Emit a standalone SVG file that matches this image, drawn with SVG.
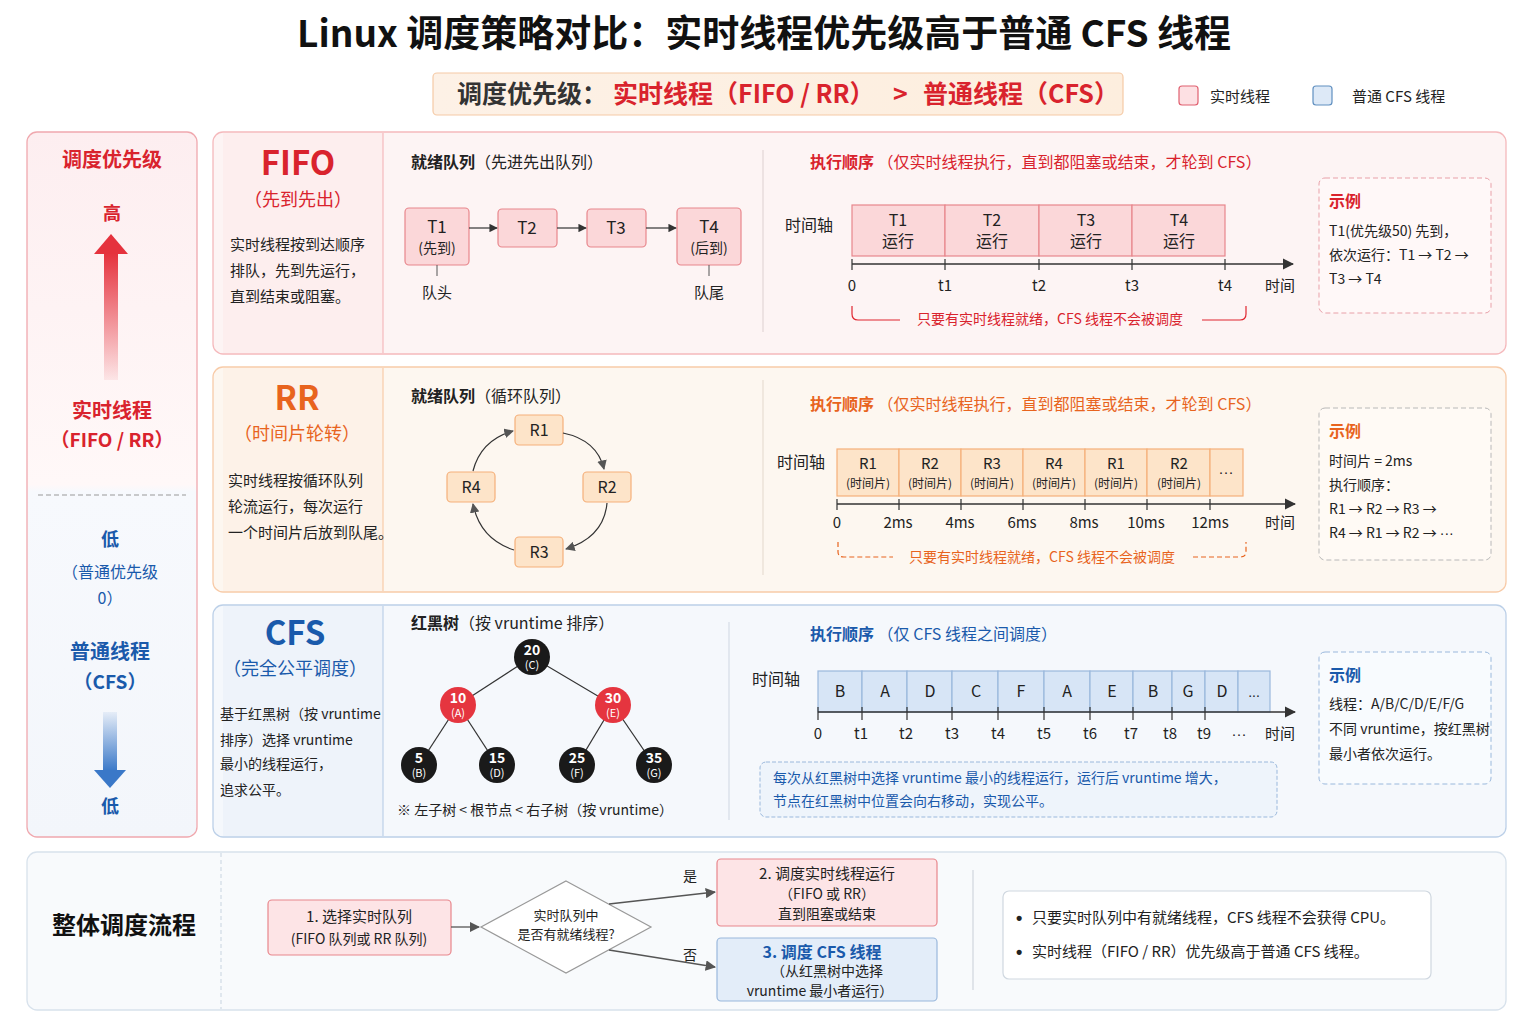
<svg xmlns="http://www.w3.org/2000/svg" width="1536" height="1024" viewBox="0 0 1536 1024" fill="#222">
<defs>
<style>
text{font-family:"Noto Sans CJK SC","Liberation Sans",sans-serif}
.lat{font-family:"Liberation Sans",sans-serif}
.b{font-weight:bold}
.red{fill:#d9232d}
.org{fill:#e8641e}
.blu{fill:#1a5aab}
.c{text-anchor:middle}
.s14{font-size:14px}.s15{font-size:15px}.s16{font-size:16px}.s13{font-size:13px}
.rc{fill:#fbd7d9;stroke:#e8868c;stroke-width:1.2}
.oc{fill:#fde4c9;stroke:#f5b07a;stroke-width:1.2}
.bc{fill:#d7e5f6;stroke:#9ab8dc;stroke-width:1.2}
.ax{stroke:#333;stroke-width:1.6;fill:none}
.tk{stroke:#333;stroke-width:1.2}
.ln{stroke:#333;stroke-width:1.2;fill:none}
</style>
<marker id="ah" viewBox="0 0 10 10" refX="9" refY="5" markerWidth="7" markerHeight="7" orient="auto"><path d="M0,0L10,5L0,10z" fill="#333"/></marker>
<marker id="ahg" viewBox="0 0 10 10" refX="9" refY="5" markerWidth="8" markerHeight="8" orient="auto"><path d="M0,0L10,5L0,10z" fill="#555"/></marker>
<linearGradient id="gRed" x1="0" y1="0" x2="0" y2="1"><stop offset="0" stop-color="#e5323d"/><stop offset="1" stop-color="#e5323d" stop-opacity="0.08"/></linearGradient>
<linearGradient id="gBlue" x1="0" y1="0" x2="0" y2="1"><stop offset="0" stop-color="#3a78c8" stop-opacity="0.08"/><stop offset="1" stop-color="#3a78c8"/></linearGradient>
<linearGradient id="gLeft" x1="0" y1="0" x2="0" y2="1"><stop offset="0" stop-color="#fdeef0"/><stop offset="0.5" stop-color="#fff8f8"/><stop offset="0.51" stop-color="#f7f9fd"/><stop offset="1" stop-color="#f3f6fb"/></linearGradient>
<linearGradient id="gBan" x1="0" y1="0" x2="1" y2="0"><stop offset="0" stop-color="#fdf1e6"/><stop offset="1" stop-color="#fdeede"/></linearGradient>
</defs>
<rect width="1536" height="1024" fill="#fff"/>

<g id="title">
<text x="764" y="47" class="b c" font-size="37" fill="#111">Linux 调度策略对比：实时线程优先级高于普通 CFS 线程</text>
</g>
<g id="banner">
<rect x="433" y="73" width="690" height="42" rx="4" fill="url(#gBan)" stroke="#f5caa6" stroke-width="1.2"/>
<text y="103" font-size="25" class="b"><tspan x="457" fill="#333">调度优先级：</tspan><tspan x="613" fill="#d9232d">实时线程（FIFO / RR）</tspan><tspan x="893" fill="#d9232d">&gt;</tspan><tspan x="923" fill="#d9232d">普通线程（CFS）</tspan></text>
</g>
<g id="legend">
<rect x="1179" y="86" width="19" height="19" rx="3" fill="#fde0e3" stroke="#e06070" stroke-width="1.2"/>
<text x="1210" y="102" class="s15">实时线程</text>
<rect x="1313" y="86" width="19" height="19" rx="3" fill="#dde9f7" stroke="#6090c0" stroke-width="1.2"/>
<text x="1352" y="102" class="s15">普通 CFS 线程</text>
</g>

<g id="priority-column">
<rect x="27" y="132" width="170" height="705" rx="10" fill="url(#gLeft)" stroke="#f0a8ae" stroke-width="1.3"/>
<text x="112" y="167" class="b red c" font-size="20">调度优先级</text>
<text x="112" y="220" class="b red c" font-size="18">高</text>
<polygon points="111,234 128,254 94,254" fill="#e5323d"/>
<rect x="104" y="253" width="14" height="127" fill="url(#gRed)"/>
<text x="112" y="418" class="b red c" font-size="20">实时线程</text>
<text x="112" y="447" class="b red c" font-size="19">（FIFO / RR）</text>
<line x1="38" y1="495" x2="186" y2="495" stroke="#999" stroke-dasharray="5 3"/>
<text x="110" y="546" class="b blu c" font-size="18">低</text>
<text x="110" y="578" class="blu c s16">（普通优先级</text>
<text x="110" y="604" class="blu c s16">0）</text>
<text x="110" y="659" class="b blu c" font-size="20">普通线程</text>
<text x="110" y="689" class="b blu c" font-size="19">（CFS）</text>
<rect x="103" y="712" width="14" height="59" fill="url(#gBlue)"/>
<polygon points="94,770 126,770 110,788" fill="#3a78c8"/>
<text x="110" y="813" class="b blu c" font-size="18">低</text>
</g>

<g id="fifo-panel">
<rect x="213" y="132" width="1293" height="222" rx="10" fill="#fdf4f4" stroke="#f5b9bc" stroke-width="1.3"/>
<path d="M223,133H383V353H223" fill="#fdeeee" stroke="none"/>
<line x1="383" y1="133" x2="383" y2="353" stroke="#f5b9bc" stroke-width="1.2"/>
<line x1="763" y1="150" x2="763" y2="332" stroke="#e3d6d6" stroke-width="1.2"/>
<text x="298" y="175" class="b red c" font-size="33">FIFO</text>
<text x="298" y="206" class="red c" font-size="18">（先到先出）</text>
<text x="230" y="250" class="s15">实时线程按到达顺序</text>
<text x="230" y="276" class="s15">排队，先到先运行，</text>
<text x="230" y="302" class="s15">直到结束或阻塞。</text>
<text x="411" y="168" class="s16"><tspan class="b">就绪队列</tspan>（先进先出队列）</text>
</g>
<g id="fifo-T1"><rect x="405" y="208" width="64" height="57" rx="4" class="rc"/><text x="437" y="233" class="c" font-size="17">T1</text><text x="437" y="253" class="c s14">(先到)</text></g>
<g id="fifo-T2"><rect x="498" y="209" width="59" height="38" rx="4" class="rc"/><text x="527" y="234" class="c" font-size="17">T2</text></g>
<g id="fifo-T3"><rect x="587" y="209" width="59" height="38" rx="4" class="rc"/><text x="616" y="234" class="c" font-size="17">T3</text></g>
<g id="fifo-T4"><rect x="677" y="208" width="64" height="57" rx="4" class="rc"/><text x="709" y="233" class="c" font-size="17">T4</text><text x="709" y="253" class="c s14">(后到)</text></g>
<g id="fifo-labels">
<text x="437" y="298" class="c s15">队头</text>
<text x="709" y="298" class="c s15">队尾</text>
</g>
<g id="fifo-timeline">
<text x="810" y="168" class="red s16"><tspan class="b">执行顺序</tspan> （仅实时线程执行，直到都阻塞或结束，才轮到 CFS）</text>
<text x="785" y="231" class="s16">时间轴</text>
<rect x="852" y="205" width="93" height="51" class="rc"/>
<rect x="945" y="205" width="94" height="51" class="rc"/>
<rect x="1039" y="205" width="93" height="51" class="rc"/>
<rect x="1132" y="205" width="93" height="51" class="rc"/>
<text x="898" y="226" class="c s16">T1</text><text x="898" y="247" class="c s16">运行</text>
<text x="992" y="226" class="c s16">T2</text><text x="992" y="247" class="c s16">运行</text>
<text x="1086" y="226" class="c s16">T3</text><text x="1086" y="247" class="c s16">运行</text>
<text x="1179" y="226" class="c s16">T4</text><text x="1179" y="247" class="c s16">运行</text>
<text x="852" y="291" class="c s15">0</text><text x="945" y="291" class="c s15">t1</text><text x="1039" y="291" class="c s15">t2</text><text x="1132" y="291" class="c s15">t3</text><text x="1225" y="291" class="c s15">t4</text><text x="1280" y="291" class="c s15">时间</text>
<text x="1050" y="324" class="red c s14">只要有实时线程就绪，CFS 线程不会被调度</text>
</g>
<g id="fifo-example">
<rect x="1319" y="178" width="172" height="135" rx="6" fill="#fff8f8" stroke="#e8a0a8" stroke-dasharray="5 3"/>
<text x="1329" y="207" class="b red s16">示例</text>
<text x="1329" y="236" class="s14">T1(优先级50) 先到，</text>
<text x="1329" y="260" class="s14">依次运行：T1 → T2 →</text>
<text x="1329" y="284" class="s14">T3 → T4</text>
</g>

<g id="rr-panel">
<rect x="213" y="367" width="1293" height="225" rx="10" fill="#fdf7f0" stroke="#f8cba8" stroke-width="1.3"/>
<path d="M223,368H383V591H223" fill="#fdf2e8" stroke="none"/>
<line x1="383" y1="368" x2="383" y2="591" stroke="#f8cba8" stroke-width="1.2"/>
<line x1="763" y1="380" x2="763" y2="575" stroke="#e8ddd2" stroke-width="1.2"/>
<text x="297" y="410" class="b org c" font-size="33">RR</text>
<text x="297" y="440" class="org c" font-size="18">（时间片轮转）</text>
<text x="228" y="486" class="s15">实时线程按循环队列</text>
<text x="228" y="512" class="s15">轮流运行，每次运行</text>
<text x="228" y="538" class="s15">一个时间片后放到队尾。</text>
<text x="411" y="402" class="s16"><tspan class="b">就绪队列</tspan>（循环队列）</text>
</g>
<g id="rr-R1"><rect x="515" y="415" width="48" height="30" rx="4" class="oc"/><text x="539" y="436" class="c s16">R1</text></g>
<g id="rr-R2"><rect x="583" y="472" width="48" height="30" rx="4" class="oc"/><text x="607" y="493" class="c s16">R2</text></g>
<g id="rr-R3"><rect x="515" y="537" width="48" height="30" rx="4" class="oc"/><text x="539" y="558" class="c s16">R3</text></g>
<g id="rr-R4"><rect x="447" y="472" width="48" height="30" rx="4" class="oc"/><text x="471" y="493" class="c s16">R4</text></g>
<g id="rr-timeline">
<text x="810" y="410" class="org s16"><tspan class="b">执行顺序</tspan> （仅实时线程执行，直到都阻塞或结束，才轮到 CFS）</text>
<text x="777" y="468" class="s16">时间轴</text>
<rect x="837" y="449" width="62" height="47" class="oc"/>
<rect x="899" y="449" width="62" height="47" class="oc"/>
<rect x="961" y="449" width="62" height="47" class="oc"/>
<rect x="1023" y="449" width="62" height="47" class="oc"/>
<rect x="1085" y="449" width="62" height="47" class="oc"/>
<rect x="1147" y="449" width="63" height="47" class="oc"/>
<rect x="1210" y="449" width="33" height="47" class="oc"/>
<text x="868" y="469" class="c s15">R1</text><text x="868" y="488" class="c" font-size="12">(时间片)</text>
<text x="930" y="469" class="c s15">R2</text><text x="930" y="488" class="c" font-size="12">(时间片)</text>
<text x="992" y="469" class="c s15">R3</text><text x="992" y="488" class="c" font-size="12">(时间片)</text>
<text x="1054" y="469" class="c s15">R4</text><text x="1054" y="488" class="c" font-size="12">(时间片)</text>
<text x="1116" y="469" class="c s15">R1</text><text x="1116" y="488" class="c" font-size="12">(时间片)</text>
<text x="1179" y="469" class="c s15">R2</text><text x="1179" y="488" class="c" font-size="12">(时间片)</text>
<text x="1226" y="477" class="c s15 lat">···</text>
<text x="837" y="528" class="c s15">0</text><text x="898" y="528" class="c s15">2ms</text><text x="960" y="528" class="c s15">4ms</text><text x="1022" y="528" class="c s15">6ms</text><text x="1084" y="528" class="c s15">8ms</text><text x="1146" y="528" class="c s15">10ms</text><text x="1210" y="528" class="c s15">12ms</text><text x="1280" y="528" class="c s15">时间</text>
<text x="1042" y="562" class="org c s14">只要有实时线程就绪，CFS 线程不会被调度</text>
</g>
<g id="rr-example">
<rect x="1319" y="408" width="172" height="152" rx="6" fill="#fffaf5" stroke="#b8b8b8" stroke-dasharray="5 3"/>
<text x="1329" y="437" class="b org s16">示例</text>
<text x="1329" y="466" class="s14">时间片 = 2ms</text>
<text x="1329" y="490" class="s14">执行顺序：</text>
<text x="1329" y="514" class="s14">R1 → R2 → R3 →</text>
<text x="1329" y="538" class="s14">R4 → R1 → R2 → <tspan class="lat">···</tspan></text>
</g>

<g id="cfs-panel">
<rect x="213" y="605" width="1293" height="232" rx="10" fill="#f5f8fc" stroke="#bcd0e8" stroke-width="1.3"/>
<path d="M223,606H383V836H223" fill="#eef3fa" stroke="none"/>
<line x1="383" y1="606" x2="383" y2="836" stroke="#bcd0e8" stroke-width="1.2"/>
<line x1="729" y1="622" x2="729" y2="820" stroke="#d6dde6" stroke-width="1.2"/>
<text x="295" y="645" class="b blu c" font-size="33">CFS</text>
<text x="295" y="675" class="blu c" font-size="18">（完全公平调度）</text>
<text x="220" y="719" class="s14">基于红黑树（按 vruntime</text>
<text x="220" y="745" class="s14">排序）选择 vruntime</text>
<text x="220" y="769" class="s14">最小的线程运行，</text>
<text x="220" y="795" class="s14">追求公平。</text>
<text x="411" y="629" class="s16"><tspan class="b">红黑树</tspan>（按 vruntime 排序）</text>
<text x="397" y="815" class="s14">※ 左子树 &lt; 根节点 &lt; 右子树（按 vruntime）</text>
</g>
<g id="tree-edges">
<line x1="532" y1="657" x2="458" y2="705" class="ln"/>
<line x1="532" y1="657" x2="613" y2="705" class="ln"/>
<line x1="458" y1="705" x2="419" y2="765" class="ln"/>
<line x1="458" y1="705" x2="497" y2="765" class="ln"/>
<line x1="613" y1="705" x2="577" y2="765" class="ln"/>
<line x1="613" y1="705" x2="654" y2="765" class="ln"/>
</g>
<g id="node-20"><circle cx="532" cy="657" r="18" fill="#1a1a1a"/><text x="532" y="655" class="c b" font-size="14" fill="#fff">20</text><text x="532" y="669" class="c" font-size="11" fill="#fff">(C)</text></g>
<g id="node-10"><circle cx="458" cy="705" r="18" fill="#e5353f"/><text x="458" y="703" class="c b" font-size="14" fill="#fff">10</text><text x="458" y="717" class="c" font-size="11" fill="#fff">(A)</text></g>
<g id="node-30"><circle cx="613" cy="705" r="18" fill="#e5353f"/><text x="613" y="703" class="c b" font-size="14" fill="#fff">30</text><text x="613" y="717" class="c" font-size="11" fill="#fff">(E)</text></g>
<g id="node-5"><circle cx="419" cy="765" r="18" fill="#1a1a1a"/><text x="419" y="763" class="c b" font-size="14" fill="#fff">5</text><text x="419" y="777" class="c" font-size="11" fill="#fff">(B)</text></g>
<g id="node-15"><circle cx="497" cy="765" r="18" fill="#1a1a1a"/><text x="497" y="763" class="c b" font-size="14" fill="#fff">15</text><text x="497" y="777" class="c" font-size="11" fill="#fff">(D)</text></g>
<g id="node-25"><circle cx="577" cy="765" r="18" fill="#1a1a1a"/><text x="577" y="763" class="c b" font-size="14" fill="#fff">25</text><text x="577" y="777" class="c" font-size="11" fill="#fff">(F)</text></g>
<g id="node-35"><circle cx="654" cy="765" r="18" fill="#1a1a1a"/><text x="654" y="763" class="c b" font-size="14" fill="#fff">35</text><text x="654" y="777" class="c" font-size="11" fill="#fff">(G)</text></g>
<g id="cfs-timeline">
<text x="810" y="640" class="blu s16"><tspan class="b">执行顺序</tspan> （仅 CFS 线程之间调度）</text>
<text x="752" y="685" class="s16">时间轴</text>
<rect x="818" y="671" width="44" height="41" class="bc"/>
<rect x="862" y="671" width="45" height="41" class="bc"/>
<rect x="907" y="671" width="45" height="41" class="bc"/>
<rect x="952" y="671" width="46" height="41" class="bc"/>
<rect x="998" y="671" width="46" height="41" class="bc"/>
<rect x="1044" y="671" width="46" height="41" class="bc"/>
<rect x="1090" y="671" width="43" height="41" class="bc"/>
<rect x="1133" y="671" width="39" height="41" class="bc"/>
<rect x="1172" y="671" width="33" height="41" class="bc"/>
<rect x="1205" y="671" width="33" height="41" class="bc"/>
<rect x="1238" y="671" width="32" height="41" class="bc"/>
<text x="840" y="697" class="c s16">B</text><text x="885" y="697" class="c s16">A</text><text x="930" y="697" class="c s16">D</text><text x="976" y="697" class="c s16">C</text><text x="1021" y="697" class="c s16">F</text><text x="1067" y="697" class="c s16">A</text><text x="1112" y="697" class="c s16">E</text><text x="1153" y="697" class="c s16">B</text><text x="1188" y="697" class="c s16">G</text><text x="1222" y="697" class="c s16">D</text><text x="1254" y="697" class="c s14 lat">...</text>
<text x="818" y="739" class="c s15">0</text><text x="861" y="739" class="c s15">t1</text><text x="906" y="739" class="c s15">t2</text><text x="952" y="739" class="c s15">t3</text><text x="998" y="739" class="c s15">t4</text><text x="1044" y="739" class="c s15">t5</text><text x="1090" y="739" class="c s15">t6</text><text x="1131" y="739" class="c s15">t7</text><text x="1170" y="739" class="c s15">t8</text><text x="1204" y="739" class="c s15">t9</text><text x="1239" y="739" class="c s15 lat">···</text><text x="1280" y="739" class="c s15">时间</text>
</g>
<g id="cfs-note">
<rect x="760" y="762" width="517" height="55" rx="6" fill="#eef4fb" stroke="#9ab8dc" stroke-dasharray="4 2"/>
<text x="773" y="783" class="blu s14">每次从红黑树中选择 vruntime 最小的线程运行，运行后 vruntime 增大，</text>
<text x="773" y="806" class="blu s14">节点在红黑树中位置会向右移动，实现公平。</text>
</g>
<g id="cfs-example">
<rect x="1319" y="652" width="172" height="132" rx="6" fill="#f8fbfe" stroke="#9ab8dc" stroke-dasharray="5 3"/>
<text x="1329" y="681" class="b blu s16">示例</text>
<text x="1329" y="709" class="s14">线程：A/B/C/D/E/F/G</text>
<text x="1329" y="734" class="s14">不同 vruntime，按红黑树</text>
<text x="1329" y="759" class="s14">最小者依次运行。</text>
</g>

<g id="flow-panel">
<rect x="27" y="852" width="1479" height="158" rx="10" fill="#f8fafc" stroke="#d8e2ec" stroke-width="1.3"/>
<line x1="221" y1="853" x2="221" y2="1009" stroke="#c8d4e0" stroke-dasharray="4 3"/>
<text x="124" y="934" class="b c" font-size="24" fill="#111">整体调度流程</text>
<line x1="973" y1="870" x2="973" y2="990" stroke="#d0d6dd" stroke-width="1.2"/>
</g>
<g id="flow-step1"><rect x="268" y="900" width="183" height="55" rx="4" fill="#fde4e6" stroke="#e8868c" stroke-width="1.2"/><text x="359" y="922" class="c s15">1. 选择实时队列</text><text x="359" y="944" class="c s14">(FIFO 队列或 RR 队列)</text></g>
<g id="flow-decision"><polygon points="566,881 651,927 566,973 481,927" fill="#fff" stroke="#999" stroke-width="1.2"/><text x="566" y="920" class="c s13">实时队列中</text><text x="566" y="939" class="c s13">是否有就绪线程?</text></g>
<g id="flow-step2"><rect x="717" y="859" width="220" height="67" rx="4" fill="#fde4e6" stroke="#e8868c" stroke-width="1.2"/><text x="827" y="879" class="c s15">2. 调度实时线程运行</text><text x="827" y="899" class="c s14">（FIFO 或 RR）</text><text x="827" y="919" class="c s14">直到阻塞或结束</text></g>
<g id="flow-step3"><rect x="717" y="938" width="220" height="63" rx="4" fill="#e3edf9" stroke="#9ab8dc" stroke-width="1.2"/><text x="822" y="958" class="c b blu s16">3. 调度 CFS 线程</text><text x="827" y="976" class="c s14">（从红黑树中选择</text><text x="820" y="996" class="c s14">vruntime 最小者运行）</text></g>
<g id="flow-summary"><rect x="1003" y="891" width="428" height="88" rx="6" fill="#fff" stroke="#d0d8e0" stroke-width="1.2"/>
<text x="1016" y="924" class="lat b" font-size="18">•</text><text x="1032" y="923" class="s15">只要实时队列中有就绪线程，CFS 线程不会获得 CPU。</text>
<text x="1016" y="958" class="lat b" font-size="18">•</text><text x="1032" y="957" class="s15">实时线程（FIFO / RR）优先级高于普通 CFS 线程。</text></g>

<g id="connectors">
<line x1="469" y1="228" x2="497" y2="228" class="ln" marker-end="url(#ah)"/>
<line x1="557" y1="228" x2="586" y2="228" class="ln" marker-end="url(#ah)"/>
<line x1="646" y1="228" x2="676" y2="228" class="ln" marker-end="url(#ah)"/>
<line x1="437" y1="265" x2="437" y2="276" stroke="#555"/>
<line x1="709" y1="265" x2="709" y2="276" stroke="#555"/>
<line x1="852" y1="264" x2="1293" y2="264" class="ax" marker-end="url(#ah)"/>
<path d="M852,259V270M945,259V270M1039,259V270M1132,259V270M1225,259V270" class="tk"/>
<path d="M852,306V314Q852,320 858,320H900M1202,320H1240Q1246,320 1246,314V306" stroke="#e0252f" stroke-width="1.2" fill="none"/>
<path d="M563,433Q597,440 604,469" class="ln" stroke="#555" marker-end="url(#ahg)"/>
<path d="M607,503Q604,537 566,549" class="ln" stroke="#555" marker-end="url(#ahg)"/>
<path d="M514,550Q480,539 473,504" class="ln" stroke="#555" marker-end="url(#ahg)"/>
<path d="M473,471Q481,440 513,431" class="ln" stroke="#555" marker-end="url(#ahg)"/>
<line x1="837" y1="504" x2="1295" y2="504" class="ax" marker-end="url(#ah)"/>
<path d="M837,499V510M899,499V510M961,499V510M1023,499V510M1085,499V510M1147,499V510M1210,499V510" class="tk"/>
<path d="M838,542V552Q838,557 844,557H893M1193,557H1240Q1246,557 1246,552V542" stroke="#e8641e" stroke-width="1.2" stroke-dasharray="5 3" fill="none"/>
<line x1="818" y1="712" x2="1295" y2="712" class="ax" marker-end="url(#ah)"/>
<path d="M818,707V720M862,707V720M907,707V720M952,707V720M998,707V720M1044,707V720M1090,707V720M1133,707V720M1172,707V720M1205,707V720" class="tk"/>
<line x1="451" y1="927" x2="479" y2="927" stroke="#555" stroke-width="1.3" marker-end="url(#ahg)"/>
<line x1="609" y1="904" x2="715" y2="892" stroke="#555" stroke-width="1.3" marker-end="url(#ahg)"/>
<line x1="609" y1="950" x2="715" y2="967" stroke="#555" stroke-width="1.3" marker-end="url(#ahg)"/>
<text x="690" y="881" class="c s14">是</text>
<text x="690" y="960" class="c s14">否</text>
</g>
</svg>
